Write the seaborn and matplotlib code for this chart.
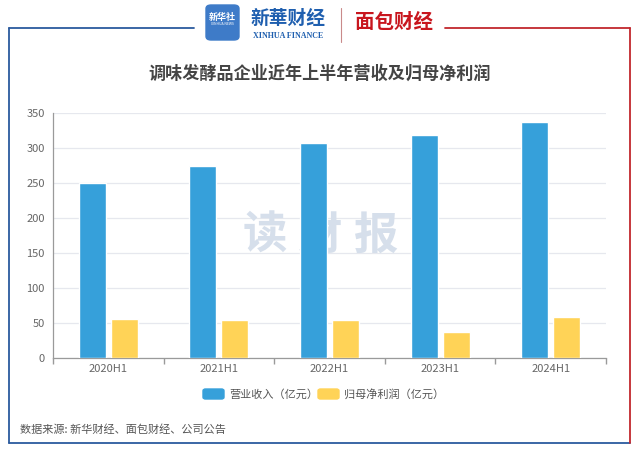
import numpy as np
import pandas as pd
import matplotlib
matplotlib.use('Agg')
import matplotlib.pyplot as plt
from matplotlib.lines import Line2D
from matplotlib.patches import FancyBboxPatch, Rectangle
import seaborn as sns

# chart data
periods = ['2020H1', '2021H1', '2022H1', '2023H1', '2024H1']
revenue = [250, 275, 307, 318, 337]
net_profit = [56, 54, 55, 37, 59]
series_names = ['营业收入（亿元）', '归母净利润（亿元）']
series_colors = ['#36A0DA', '#FFD357']

df = pd.DataFrame({
    'period': periods * 2,
    'value': revenue + net_profit,
    'series': [series_names[0]] * len(periods) + [series_names[1]] * len(periods),
})

sns.set_theme(style='white')
plt.rcParams['font.family'] = ['Noto Sans CJK SC', 'DejaVu Sans']

W, H = 640, 453
fig = plt.figure(figsize=(W / 100, H / 100), dpi=100)


def fx(x):
    return x / W


def fy(y):
    return 1 - y / H


# frame around the chart
blue_line = '#2B5A9E'
red_line = '#C1272D'
for (x0, y0, x1, y1, c) in [(9, 28, 194, 28, blue_line), (9, 28, 9, 443, blue_line),
                            (9, 443, 630, 443, blue_line), (445, 28, 630, 28, red_line),
                            (630, 28, 630, 443, red_line)]:
    fig.add_artist(Line2D([fx(x0), fx(x1)], [fy(y0), fy(y1)], color=c, lw=1.3,
                          transform=fig.transFigure))

# header logos
fig.add_artist(FancyBboxPatch((fx(206), fy(40)), fx(239) - fx(206), fy(5) - fy(40),
                              boxstyle='round,pad=0,rounding_size=0.008',
                              transform=fig.transFigure, color='#3E7BC8'))
fig.text(fx(222.5), fy(17), '新华社', color='white', fontsize=6.5, ha='center', va='center',
         fontweight='bold')
fig.text(fx(222.5), fy(24), 'XINHUA NEWS', color='white', fontsize=2.5, ha='center', va='center')
fig.text(fx(288), fy(18), '新華财经', color='#1F5FAF', fontsize=13.5, ha='center', va='center',
         fontweight='bold', style='italic')
fig.text(fx(288), fy(36), 'XINHUA FINANCE', color='#1F5FAF', fontsize=5.8, ha='center',
         va='center', family='Liberation Serif', fontweight='bold')
fig.add_artist(Line2D([fx(341), fx(341)], [fy(8), fy(42)], color='#C98A8A', lw=0.8,
                      transform=fig.transFigure))
fig.text(fx(394), fy(22), '面包财经', color='#C8161E', fontsize=14, ha='center', va='center',
         fontweight='bold')

# title
fig.text(0.5, fy(74), '调味发酵品企业近年上半年营收及归母净利润', ha='center', va='center',
         fontsize=12.3, fontweight='bold', color='#444444')

# bar chart
ax = fig.add_axes([fx(53), fy(358), fx(606) - fx(53), fy(113) - fy(358)])
sns.barplot(data=df, x='period', y='value', hue='series', palette=series_colors,
            width=0.578, gap=0.156, saturation=1, legend=False, ax=ax, zorder=3)

ax.set_ylim(0, 350)
ax.set_yticks(np.arange(0, 351, 50))
ax.set_xlim(-0.5, len(periods) - 0.5)
ax.set_xlabel('')
ax.set_ylabel('')
ax.grid(axis='y', color='#E6E8EE', lw=0.9, zorder=0)
for s in ['top', 'right']:
    ax.spines[s].set_visible(False)
for s in ['left', 'bottom']:
    ax.spines[s].set_color('#9A9A9A')
    ax.spines[s].set_linewidth(0.9)
ax.tick_params(axis='y', length=3, color='#9A9A9A', labelsize=8, labelcolor='#666666', pad=3)
ax.tick_params(axis='x', length=0, labelsize=8, labelcolor='#666666', pad=4)
ax.set_xticks(np.arange(-0.5, len(periods), 1), minor=True)
ax.tick_params(axis='x', which='minor', length=4, color='#9A9A9A', bottom=True)

# watermark
for xc, ch in zip([265, 320, 376], '读财报'):
    ax.text(fx(xc), fy(236), ch, transform=fig.transFigure, ha='center', va='center',
            fontsize=32, fontweight='bold', color='#D6DFEB', zorder=1)

# legend
legend_items = [(203, series_names[0], series_colors[0]), (318, series_names[1], series_colors[1])]
for x0, label, c in legend_items:
    fig.add_artist(FancyBboxPatch((fx(x0), fy(399)), fx(21), 10 / H,
                                  boxstyle='round,pad=0,rounding_size=0.004',
                                  transform=fig.transFigure, color=c))
    fig.text(fx(x0 + 26), fy(394), label, ha='left', va='center', fontsize=8, color='#555555')

# source note
fig.text(fx(20), fy(430), '数据来源: 新华财经、面包财经、公司公告', ha='left', va='center',
         fontsize=8, color='#555555')

fig.savefig('out.png', dpi=100)
